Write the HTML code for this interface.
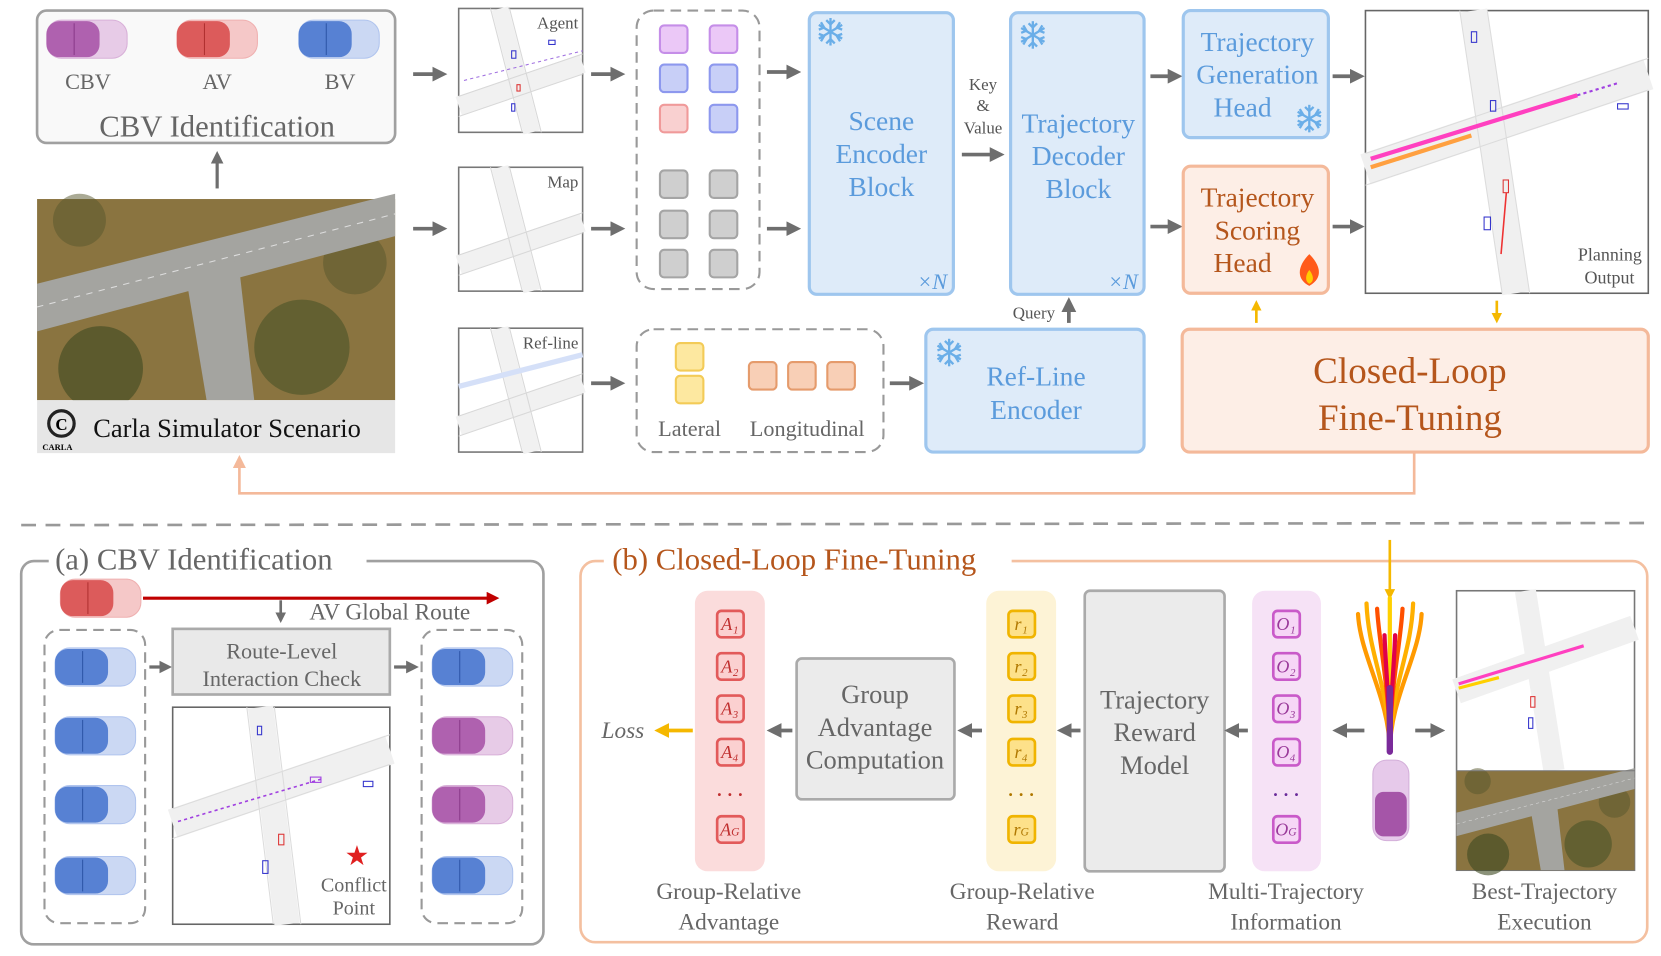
<!DOCTYPE html>
<html><head><meta charset="utf-8"><style>
html,body{margin:0;padding:0;background:#fff;}
svg{display:block;}
text{font-family:"Liberation Serif",serif;}
</style></head><body>
<svg width="1661" height="956" viewBox="0 0 1568 903" preserveAspectRatio="none" xmlns="http://www.w3.org/2000/svg">
<defs>
<marker id="ah" markerWidth="4" markerHeight="4" refX="2.2" refY="2" orient="auto" markerUnits="strokeWidth"><path d="M0,0 L4,2 L0,4 z" fill="#6e6e6e"/></marker>
<marker id="ao" markerWidth="4" markerHeight="4" refX="2.2" refY="2" orient="auto" markerUnits="strokeWidth"><path d="M0,0 L4,2 L0,4 z" fill="#f5b800"/></marker>
<marker id="ap" markerWidth="5" markerHeight="5" refX="2.5" refY="2.5" orient="auto" markerUnits="strokeWidth"><path d="M0,0 L5,2.5 L0,5 z" fill="#f4b99a"/></marker>
<marker id="ar" markerWidth="4" markerHeight="4" refX="2.2" refY="2" orient="auto" markerUnits="strokeWidth"><path d="M0,0 L4,2 L0,4 z" fill="#c00000"/></marker>
<g id="carP"><rect x="-38" y="-18" width="76" height="36" rx="14" fill="#e7cbe7" stroke="#d8b0d8"/><rect x="-38" y="-17" width="50" height="34" rx="12" fill="#a855a8" opacity="0.9"/><line x1="-12" y1="-15" x2="-12" y2="15" stroke="#8a3a8a"/></g>
<g id="carR"><rect x="-38" y="-18" width="76" height="36" rx="14" fill="#f5c8c8" stroke="#efb0b0"/><rect x="-38" y="-17" width="50" height="34" rx="12" fill="#d94f4f" opacity="0.9"/><line x1="-12" y1="-15" x2="-12" y2="15" stroke="#b03030"/></g>
<g id="carB"><rect x="-38" y="-18" width="76" height="36" rx="14" fill="#cbd8f3" stroke="#b0c4ee"/><rect x="-38" y="-17" width="50" height="34" rx="12" fill="#4a78cf" opacity="0.9"/><line x1="-12" y1="-15" x2="-12" y2="15" stroke="#2d56a8"/></g>
<g id="snow" stroke="#6aaee8" stroke-width="2.2" fill="none"><line x1="0" y1="-13" x2="0" y2="13"/><line x1="-11" y1="-6.5" x2="11" y2="6.5"/><line x1="-11" y1="6.5" x2="11" y2="-6.5"/><path d="M-4,-11 L0,-7 L4,-11 M-4,11 L0,7 L4,11 M-11,-2 L-6,-4 L-9,-9 M11,2 L6,4 L9,9 M11,-2 L6,-4 L9,-9 M-11,2 L-6,4 L-9,9"/></g>
<g id="minimap"><path d="M39,0 L69,117" stroke="#f1f1f1" stroke-width="16" fill="none"/><path d="M0,92 L117,52" stroke="#f1f1f1" stroke-width="18"/><path d="M30,0 L60,117 M48,0 L78,117 M0,102 L117,62 M0,83 L117,43" stroke="#d8d8d8" stroke-width="1" fill="none"/></g>
<g id="aerial"><rect width="338" height="190" fill="#8a7440"/><circle cx="250" cy="140" r="45" fill="#4a5428" opacity="0.6"/><circle cx="60" cy="160" r="40" fill="#3e4a22" opacity="0.6"/><circle cx="300" cy="60" r="30" fill="#55562c" opacity="0.5"/><circle cx="40" cy="20" r="25" fill="#55562c" opacity="0.5"/><path d="M0,80 L338,-5 L338,35 L0,125 z" fill="#a4a4a0"/><path d="M140,70 L190,58 L205,190 L160,190 z" fill="#a4a4a0"/><path d="M0,102 L338,14" stroke="#ddd" stroke-width="1" stroke-dasharray="6 6"/></g>
<g id="fan" fill="none" stroke-width="4" stroke-linecap="round"><path d="M0,130 C0,80 -28,40 -30,0" stroke="#ff9a00"/><path d="M0,130 C0,80 28,40 30,0" stroke="#ff9a00"/><path d="M0,130 C0,70 -20,40 -22,-10" stroke="#ffb000"/><path d="M0,130 C0,70 20,40 22,-10" stroke="#ffb000"/><path d="M0,130 C0,70 -10,30 -12,-5" stroke="#ff5000"/><path d="M0,130 C0,70 10,30 12,-5" stroke="#ff5000"/><path d="M0,130 L0,-15" stroke="#ffd000"/><path d="M0,130 C0,90 -4,50 -5,20" stroke="#e0004a"/><path d="M0,130 C0,90 4,50 5,20" stroke="#e0004a"/><path d="M0,130 L0,70" stroke="#7a2a9a" stroke-width="6"/></g>
</defs>

<!-- TOP -->
<rect x="35" y="10" width="338" height="125" rx="9" fill="#f9f9f9" stroke="#a0a0a0" stroke-width="2.5"/>
<use href="#carP" x="82" y="37"/><use href="#carR" x="205" y="37"/><use href="#carB" x="320" y="37"/>
<g fill="#666" font-size="21" text-anchor="middle"><text x="83" y="84">CBV</text><text x="205" y="84">AV</text><text x="321" y="84">BV</text></g>
<text x="205" y="129" fill="#666" font-size="29" text-anchor="middle">CBV Identification</text>
<line x1="205" y1="178" x2="205" y2="148" stroke="#6e6e6e" stroke-width="3" marker-end="url(#ah)"/>
<g transform="translate(35,188)"><use href="#aerial"/></g>
<rect x="35" y="378" width="338" height="50" fill="#e6e6e6"/>
<circle cx="58" cy="400" r="12" fill="none" stroke="#222" stroke-width="3"/><text x="58" y="406" font-size="16" text-anchor="middle" font-weight="bold">C</text>
<text x="40" y="425" font-size="8" font-family="Liberation Sans" font-weight="bold">CARLA</text>
<text x="88" y="413" font-size="25" fill="#111">Carla Simulator Scenario</text>

<g stroke="#6e6e6e" stroke-width="3.5" marker-end="url(#ah)">
<line x1="390" y1="70" x2="416" y2="70"/><line x1="390" y1="216" x2="416" y2="216"/>
<line x1="558" y1="70" x2="584" y2="70"/><line x1="558" y1="216" x2="584" y2="216"/><line x1="558" y1="362" x2="584" y2="362"/>
<line x1="724" y1="68" x2="750" y2="68"/><line x1="724" y1="216" x2="750" y2="216"/>
<line x1="908" y1="146" x2="942" y2="146"/>
<line x1="840" y1="362" x2="866" y2="362"/>
<line x1="1086" y1="72" x2="1110" y2="72"/><line x1="1086" y1="214" x2="1110" y2="214"/>
<line x1="1258" y1="72" x2="1282" y2="72"/><line x1="1258" y1="214" x2="1282" y2="214"/>
<line x1="1009" y1="305" x2="1009" y2="287"/>
</g>

<g><rect x="433" y="8" width="117" height="117" fill="#fff" stroke="#777" stroke-width="1.5"/><g transform="translate(433,8)"><use href="#minimap"/><path d="M5,68 L117,40" stroke="#a070e0" stroke-width="1" stroke-dasharray="3 3"/><rect x="50" y="40" width="4" height="7" fill="none" stroke="#33c"/><rect x="85" y="30" width="6" height="4" fill="none" stroke="#33c"/><rect x="55" y="72" width="3" height="6" fill="none" stroke="#d33"/><rect x="50" y="90" width="3" height="7" fill="none" stroke="#33c"/></g><text x="546" y="27" font-size="16" fill="#555" text-anchor="end">Agent</text></g>
<g><rect x="433" y="158" width="117" height="117" fill="#fff" stroke="#777" stroke-width="1.5"/><g transform="translate(433,158)"><use href="#minimap"/></g><text x="546" y="177" font-size="16" fill="#555" text-anchor="end">Map</text></g>
<g><rect x="433" y="310" width="117" height="117" fill="#fff" stroke="#777" stroke-width="1.5"/><g transform="translate(433,310)"><use href="#minimap"/><line x1="0" y1="55" x2="117" y2="25" stroke="#d5e0f8" stroke-width="5"/></g><text x="546" y="329" font-size="16" fill="#555" text-anchor="end">Ref-line</text></g>

<rect x="601" y="10" width="116" height="263" rx="16" fill="none" stroke="#999" stroke-width="2" stroke-dasharray="10 6"/>
<g stroke-width="2">
<rect x="623" y="24" width="26" height="26" rx="4" fill="#ebc8f7" stroke="#c58ee8"/><rect x="670" y="24" width="26" height="26" rx="4" fill="#ebc8f7" stroke="#c58ee8"/>
<rect x="623" y="61" width="26" height="26" rx="4" fill="#c8cff7" stroke="#8d98ee"/><rect x="670" y="61" width="26" height="26" rx="4" fill="#c8cff7" stroke="#8d98ee"/>
<rect x="623" y="99" width="26" height="26" rx="4" fill="#f9d0d0" stroke="#f09a9a"/><rect x="670" y="99" width="26" height="26" rx="4" fill="#c8cff7" stroke="#8d98ee"/>
<g fill="#cfcfcf" stroke="#a5a5a5"><rect x="623" y="161" width="26" height="26" rx="4"/><rect x="670" y="161" width="26" height="26" rx="4"/><rect x="623" y="199" width="26" height="26" rx="4"/><rect x="670" y="199" width="26" height="26" rx="4"/><rect x="623" y="236" width="26" height="26" rx="4"/><rect x="670" y="236" width="26" height="26" rx="4"/></g>
</g>

<rect x="601" y="311" width="233" height="116" rx="16" fill="none" stroke="#999" stroke-width="2" stroke-dasharray="10 6"/>
<g stroke-width="2"><rect x="638" y="324" width="26" height="26" rx="4" fill="#fde8a0" stroke="#f3cb57"/><rect x="638" y="355" width="26" height="26" rx="4" fill="#fde8a0" stroke="#f3cb57"/>
<g fill="#f8cfb6" stroke="#e59b6c"><rect x="707" y="342" width="26" height="26" rx="4"/><rect x="744" y="342" width="26" height="26" rx="4"/><rect x="781" y="342" width="26" height="26" rx="4"/></g></g>
<g fill="#666" font-size="21" text-anchor="middle"><text x="651" y="412">Lateral</text><text x="762" y="412">Longitudinal</text></g>

<g fill="#deebf9" stroke="#9ec6ee" stroke-width="3">
<rect x="764" y="12" width="136" height="266" rx="7"/><rect x="954" y="12" width="126" height="266" rx="7"/>
<rect x="874" y="311" width="206" height="116" rx="7"/><rect x="1117" y="10" width="137" height="120" rx="7"/>
</g>
<g fill="#fdeee6" stroke="#f4b99a" stroke-width="3"><rect x="1117" y="157" width="137" height="120" rx="7"/><rect x="1116" y="311" width="440" height="116" rx="7"/></g>
<use href="#snow" x="784" y="30"/><use href="#snow" x="975" y="33"/><use href="#snow" x="896" y="333"/><use href="#snow" x="1236" y="112"/>
<g fill="#5b9bdc" font-size="26" text-anchor="middle">
<text x="832" y="123">Scene</text><text x="832" y="154">Encoder</text><text x="832" y="185">Block</text>
<text x="1018" y="125">Trajectory</text><text x="1018" y="156">Decoder</text><text x="1018" y="187">Block</text>
<text x="978" y="364">Ref-Line</text><text x="978" y="396">Encoder</text>
<text x="1187" y="48">Trajectory</text><text x="1187" y="79">Generation</text><text x="1173" y="110">Head</text>
<text x="880" y="273" font-size="21" font-style="italic">×N</text><text x="1060" y="273" font-size="21" font-style="italic">×N</text>
</g>
<g fill="#555" font-size="16" text-anchor="middle"><text x="928" y="85">Key</text><text x="928" y="105">&amp;</text><text x="928" y="126">Value</text><text x="976" y="301">Query</text></g>
<g fill="#b5561c" font-size="26" text-anchor="middle"><text x="1187" y="195">Trajectory</text><text x="1187" y="226">Scoring</text><text x="1173" y="257">Head</text>
<text x="1331" y="362" font-size="35">Closed-Loop</text><text x="1331" y="406" font-size="35">Fine-Tuning</text></g>
<path d="M1236,240 C1246,250 1250,262 1236,270 C1224,264 1224,252 1236,240z" fill="#ff5a1a"/><path d="M1236,255 C1240,260 1241,266 1236,268 C1232,266 1232,260 1236,255z" fill="#ffcc00"/>

<rect x="1289" y="10" width="267" height="267" fill="#fff" stroke="#666" stroke-width="1.5"/>
<g transform="translate(1289,10)"><path d="M102,0 L142,267" stroke="#f0f0f0" stroke-width="26" fill="none"/><path d="M0,150 L267,60" stroke="#f0f0f0" stroke-width="30"/><path d="M0,135 L267,45 M0,165 L267,75 M89,0 L129,267 M115,0 L155,267" stroke="#dcdcdc" stroke-width="1" fill="none"/><path d="M5,140 L200,80" stroke="#ff40c0" stroke-width="4"/><path d="M5,148 L100,118" stroke="#ffa040" stroke-width="4"/><path d="M200,80 L240,68" stroke="#a040e0" stroke-width="2" stroke-dasharray="3 3"/><rect x="100" y="20" width="5" height="10" fill="none" stroke="#33c"/><rect x="118" y="85" width="5" height="10" fill="none" stroke="#33c"/><rect x="238" y="88" width="10" height="5" fill="none" stroke="#33c"/><rect x="112" y="195" width="6" height="12" fill="none" stroke="#33c"/><rect x="130" y="160" width="5" height="12" fill="none" stroke="#d33"/><line x1="133" y1="172" x2="128" y2="230" stroke="#e33" stroke-width="1.5"/></g>
<text x="1550" y="246" font-size="17" fill="#555" text-anchor="end">Planning</text><text x="1543" y="268" font-size="17" fill="#555" text-anchor="end">Output</text>

<g stroke="#f5b800" stroke-width="2.5"><line x1="1186" y1="305" x2="1186" y2="288" marker-end="url(#ao)"/><line x1="1413" y1="284" x2="1413" y2="301" marker-end="url(#ao)"/></g>
<polyline points="1335,427 1335,466 226,466 226,436" fill="none" stroke="#f4b99a" stroke-width="2.5" marker-end="url(#ap)"/>

<line x1="20" y1="496" x2="1556" y2="494" stroke="#999" stroke-width="2.5" stroke-dasharray="14 9"/>

<!-- (a) -->
<rect x="20" y="530" width="493" height="362" rx="12" fill="none" stroke="#a0a0a0" stroke-width="2.5"/>
<rect x="46" y="514" width="300" height="30" fill="#fff"/>
<text x="52" y="538" font-size="29" fill="#666">(a) CBV Identification</text>
<use href="#carR" x="95" y="565"/>
<line x1="135" y1="565" x2="466" y2="565" stroke="#c00000" stroke-width="3" marker-end="url(#ar)"/>
<line x1="265" y1="567" x2="265" y2="584" stroke="#6e6e6e" stroke-width="2.5" marker-end="url(#ah)"/>
<text x="368" y="585" font-size="22" fill="#666" text-anchor="middle">AV Global Route</text>
<rect x="42" y="595" width="95" height="277" rx="14" fill="none" stroke="#999" stroke-width="2" stroke-dasharray="10 6"/>
<rect x="398" y="595" width="95" height="277" rx="14" fill="none" stroke="#999" stroke-width="2" stroke-dasharray="10 6"/>
<use href="#carB" x="90" y="630"/><use href="#carB" x="90" y="695"/><use href="#carB" x="90" y="760"/><use href="#carB" x="90" y="827"/>
<use href="#carB" x="446" y="630"/><use href="#carP" x="446" y="695"/><use href="#carP" x="446" y="760"/><use href="#carB" x="446" y="827"/>
<g stroke="#6e6e6e" stroke-width="3" marker-end="url(#ah)"><line x1="141" y1="630" x2="157" y2="630"/><line x1="372" y1="630" x2="390" y2="630"/></g>
<rect x="163" y="594" width="205" height="62" fill="#e9e9e9" stroke="#aaa" stroke-width="2.5"/>
<g fill="#666" font-size="21" text-anchor="middle"><text x="266" y="622">Route-Level</text><text x="266" y="648">Interaction Check</text></g>
<rect x="163" y="668" width="205" height="205" fill="#fff" stroke="#666" stroke-width="1.5"/>
<g transform="translate(163,668)"><path d="M83,0 L108,205" stroke="#f0f0f0" stroke-width="24" fill="none"/><path d="M0,110 L205,40" stroke="#f0f0f0" stroke-width="28"/><path d="M70,0 L95,205 M96,0 L121,205 M0,96 L205,26 M0,124 L205,54" stroke="#dcdcdc" stroke-width="1" fill="none"/><path d="M5,108 L140,68" stroke="#a040e0" stroke-width="1.5" stroke-dasharray="3 3"/><rect x="80" y="18" width="4" height="8" fill="none" stroke="#33c"/><rect x="130" y="66" width="10" height="5" fill="none" stroke="#a040e0"/><rect x="180" y="70" width="9" height="5" fill="none" stroke="#33c"/><rect x="100" y="120" width="5" height="10" fill="none" stroke="#d33"/><rect x="85" y="145" width="5" height="12" fill="none" stroke="#33c"/></g>
<text x="337" y="817" font-size="26" fill="#e02020" text-anchor="middle">★</text>
<g fill="#666" font-size="19" text-anchor="middle"><text x="334" y="842">Conflict</text><text x="334" y="864">Point</text></g>

<!-- (b) -->
<rect x="548" y="530" width="1007" height="360" rx="14" fill="none" stroke="#f4c0a0" stroke-width="2.5"/>
<rect x="570" y="514" width="385" height="30" fill="#fff"/>
<text x="578" y="538" font-size="29" fill="#b5561c">(b) Closed-Loop Fine-Tuning</text>
<line x1="1312" y1="510" x2="1312" y2="562" stroke="#f5b800" stroke-width="2.5" marker-end="url(#ao)"/>

<rect x="656" y="558" width="66" height="265" rx="12" fill="#fbdcdc"/>
<rect x="931" y="558" width="66" height="265" rx="12" fill="#fdf3d6"/>
<rect x="1182" y="558" width="65" height="265" rx="12" fill="#f6e2f6"/>
<g stroke-width="2.5">
<g fill="#fbd0d0" stroke="#e25a5a"><rect x="677" y="577" width="25" height="25" rx="4"/><rect x="677" y="617" width="25" height="25" rx="4"/><rect x="677" y="657" width="25" height="25" rx="4"/><rect x="677" y="698" width="25" height="25" rx="4"/><rect x="677" y="771" width="25" height="25" rx="4"/></g>
<g fill="#fde18a" stroke="#f0b400"><rect x="952" y="577" width="25" height="25" rx="4"/><rect x="952" y="617" width="25" height="25" rx="4"/><rect x="952" y="657" width="25" height="25" rx="4"/><rect x="952" y="698" width="25" height="25" rx="4"/><rect x="952" y="771" width="25" height="25" rx="4"/></g>
<g fill="#f6d6f6" stroke="#c95ac9"><rect x="1202" y="577" width="25" height="25" rx="4"/><rect x="1202" y="617" width="25" height="25" rx="4"/><rect x="1202" y="657" width="25" height="25" rx="4"/><rect x="1202" y="698" width="25" height="25" rx="4"/><rect x="1202" y="771" width="25" height="25" rx="4"/></g>
</g>
<g font-size="17" font-style="italic" text-anchor="middle">
<g fill="#c03030"><text x="689" y="595">A₁</text><text x="689" y="635">A₂</text><text x="689" y="675">A₃</text><text x="689" y="716">A₄</text><text x="689" y="789">A<tspan font-size="11">G</tspan></text><text x="689" y="756" font-style="normal" font-weight="bold">· · ·</text></g>
<g fill="#b07800"><text x="964" y="595">r₁</text><text x="964" y="635">r₂</text><text x="964" y="675">r₃</text><text x="964" y="716">r₄</text><text x="964" y="789">r<tspan font-size="11">G</tspan></text><text x="964" y="756" font-style="normal" font-weight="bold">· · ·</text></g>
<g fill="#9a3a9a"><text x="1214" y="595">O₁</text><text x="1214" y="635">O₂</text><text x="1214" y="675">O₃</text><text x="1214" y="716">O₄</text><text x="1214" y="789">O<tspan font-size="11">G</tspan></text><text x="1214" y="756" font-style="normal" font-weight="bold" fill="#6a2a9a">· · ·</text></g>
</g>

<rect x="752" y="622" width="149" height="133" rx="5" fill="#ebebeb" stroke="#aaa" stroke-width="2.5"/>
<rect x="1024" y="558" width="132" height="265" rx="5" fill="#ebebeb" stroke="#aaa" stroke-width="2.5"/>
<g fill="#666" font-size="25" text-anchor="middle">
<text x="826" y="664">Group</text><text x="826" y="695">Advantage</text><text x="826" y="726">Computation</text>
<text x="1090" y="669">Trajectory</text><text x="1090" y="700">Reward</text><text x="1090" y="731">Model</text>
</g>
<g stroke="#6e6e6e" stroke-width="3.5" marker-end="url(#ah)">
<line x1="1288" y1="690" x2="1264" y2="690"/><line x1="1336" y1="690" x2="1358" y2="690"/>
<line x1="1178" y1="690" x2="1162" y2="690"/><line x1="1020" y1="690" x2="1004" y2="690"/>
<line x1="927" y1="690" x2="910" y2="690"/><line x1="748" y1="690" x2="730" y2="690"/>
</g>
<line x1="654" y1="690" x2="624" y2="690" stroke="#f5b800" stroke-width="3.5" marker-end="url(#ao)"/>
<text x="588" y="697" font-size="22" font-style="italic" fill="#666" text-anchor="middle">Loss</text>

<g transform="translate(1312,580)"><use href="#fan"/></g>
<rect x="1296" y="718" width="34" height="76" rx="13" fill="#e6c9ea" stroke="#d4b0da"/>
<rect x="1298" y="748" width="30" height="42" rx="8" fill="#a555a8"/>

<rect x="1375" y="558" width="168" height="264" fill="#fff" stroke="#777" stroke-width="1.5"/>
<g transform="translate(1375,558)"><path d="M65,0 L92,170" stroke="#f0f0f0" stroke-width="20" fill="none"/><path d="M0,95 L168,35" stroke="#f0f0f0" stroke-width="24"/><path d="M2,88 L120,52" stroke="#ff40c0" stroke-width="3"/><path d="M2,92 L40,82" stroke="#ffd000" stroke-width="3"/><rect x="70" y="100" width="4" height="10" fill="none" stroke="#d33"/><rect x="68" y="120" width="4" height="10" fill="none" stroke="#33c"/></g>
<g transform="translate(1375,728) scale(0.497,0.494)"><use href="#aerial"/></g>
<line x1="1375" y1="728" x2="1543" y2="728" stroke="#777"/>

<g fill="#666" font-size="22" text-anchor="middle">
<text x="688" y="849">Group-Relative</text><text x="688" y="878">Advantage</text>
<text x="965" y="849">Group-Relative</text><text x="965" y="878">Reward</text>
<text x="1214" y="849">Multi-Trajectory</text><text x="1214" y="878">Information</text>
<text x="1458" y="849">Best-Trajectory</text><text x="1458" y="878">Execution</text>
</g>
</svg>
</body></html>
